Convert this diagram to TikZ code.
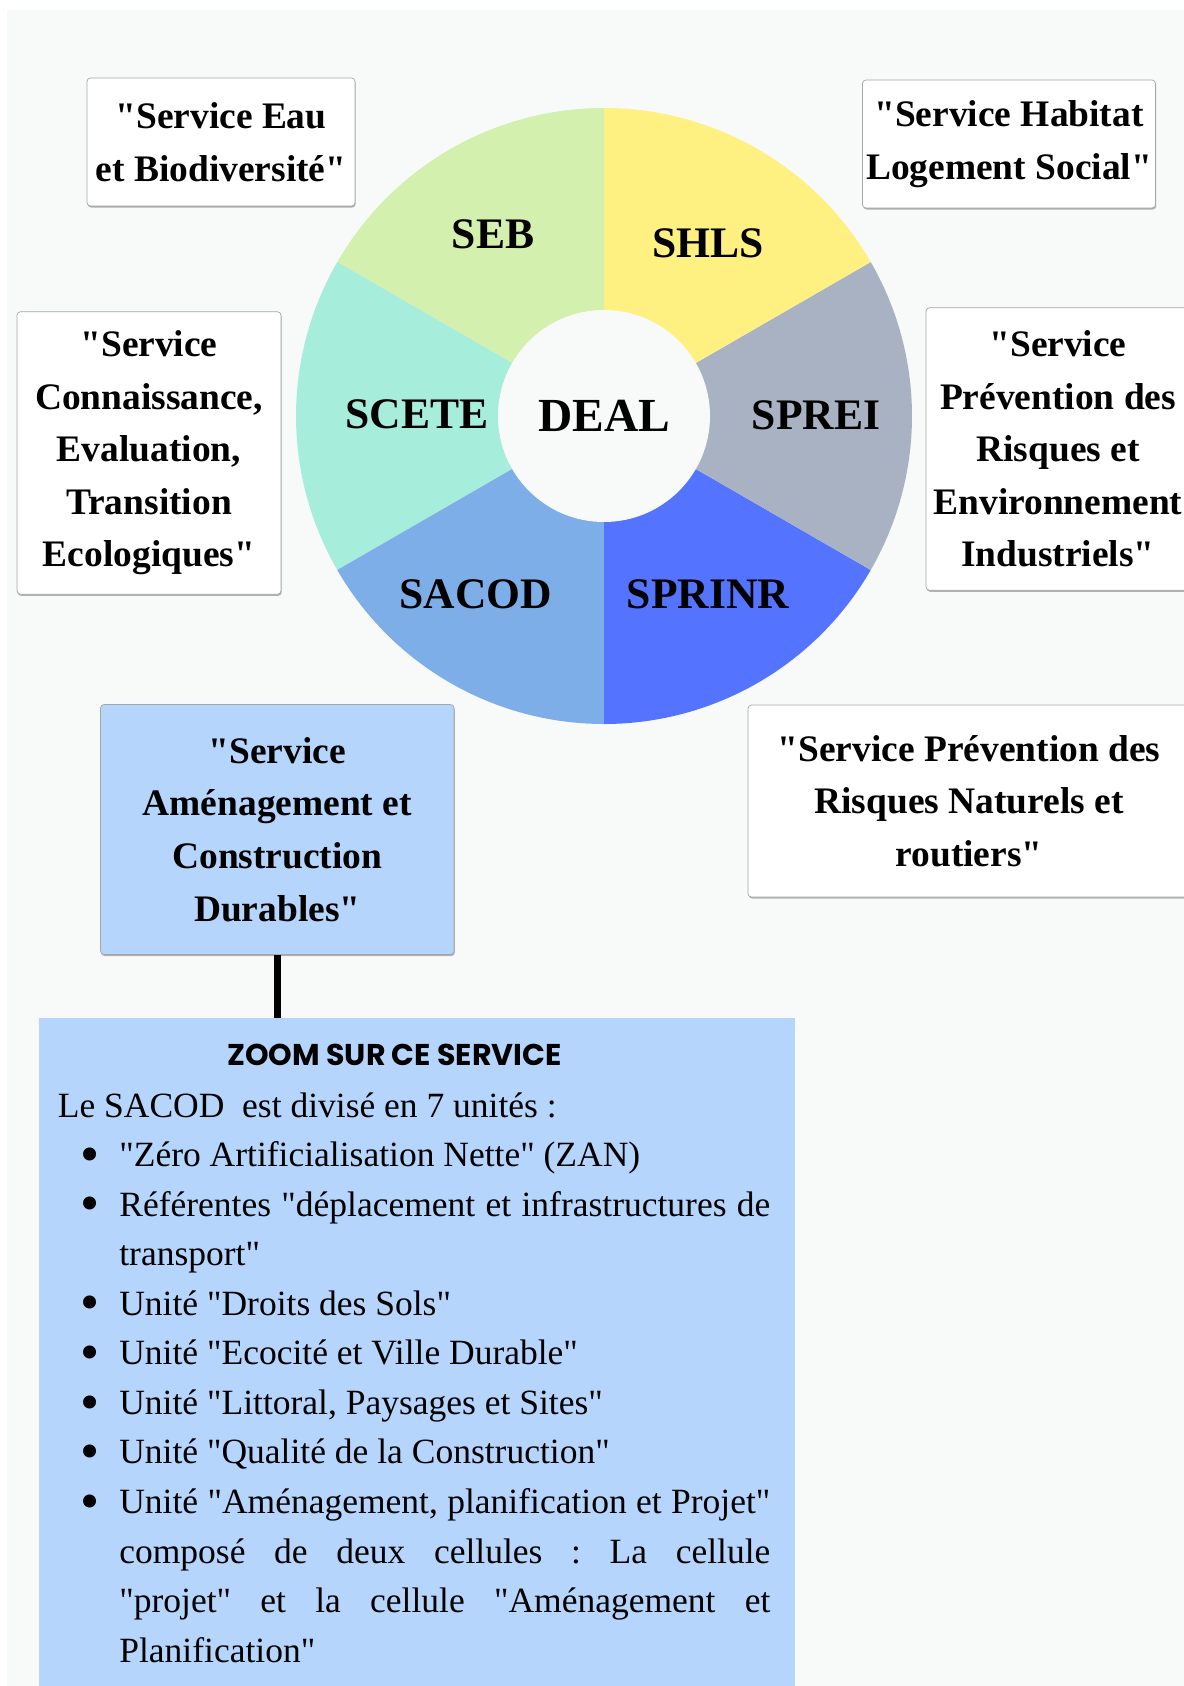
\documentclass[tikz,border=0pt]{standalone}
\usepackage{fontspec}
\setmainfont{Liberation Serif}[Ligatures=TeXOff]
\newfontfamily\zoomfont{Poppins}
\usepackage{xcolor}
\usetikzlibrary{positioning,calc,shadows}

\definecolor{bgcol}{RGB}{248,250,250}
\definecolor{sebcol}{RGB}{212,240,174}
\definecolor{shlscol}{RGB}{255,240,130}
\definecolor{spreicol}{RGB}{169,178,194}
\definecolor{sprinrcol}{RGB}{84,115,255}
\definecolor{sacodcol}{RGB}{125,174,232}
\definecolor{scetecol}{RGB}{166,238,219}
\definecolor{zoomcol}{RGB}{181,213,253}

\newcommand{\bigbullet}{\raisebox{-3.2pt}{\fontsize{31}{31}\selectfont\textbullet}}

\begin{document}
\begin{tikzpicture}[
    svc/.style={rectangle, draw=black!35, fill=#1, rounded corners=2pt, align=center, inner sep=0pt, font=\fontsize{21.3}{29.9}\selectfont\bfseries, drop shadow={shadow xshift=0.4pt, shadow yshift=-0.9pt, opacity=0.6}},
    svc/.default=white,
    sect/.style={font=\fontsize{24.8}{28}\selectfont\bfseries},
    link/.style={line width=4.3pt, black}
]
% --- Canvas ---
\useasboundingbox (0,0) rectangle (23.68,-33.72);
\fill[bgcol] (0.14,-0.2) rectangle (23.68,-33.72);

% --- Wheel of the services ---
\coordinate (c) at (12.08,-8.32);
\foreach \a/\col in {90/sebcol, 150/scetecol, 210/sacodcol, 270/sprinrcol, 330/spreicol, 30/shlscol}
  \fill[\col] (c) -- ++(\a:6.16) arc (\a:\a+60:6.16) -- cycle;
\node[circle, fill=bgcol, minimum size=4.24cm, inner sep=0pt, font=\fontsize{27}{30}\selectfont\bfseries] (deal) at (c) {DEAL};
\node[sect] (seb) at (9.86,-4.68) {SEB};
\node[sect] (shls) at (14.16,-4.86) {SHLS};
\node[sect] (scete) at (8.34,-8.28) {SCETE};
\node[sect] (sprei) at (16.32,-8.3) {SPREI};
\node[sect] (sacod) at (9.52,-11.88) {SACOD};
\node[sect] (sprinr) at (14.16,-11.88) {SPRINR};

% --- Full names ---
\node[svc, minimum width=5.36cm, minimum height=2.56cm] (eau) at (4.42,-2.84) {"Service Eau\\et Biodiversité"};
\node[svc, minimum width=5.86cm, minimum height=2.56cm] (habitat) at (20.18,-2.88) {"Service Habitat\\Logement Social"};
\node[svc, minimum width=5.28cm, minimum height=5.65cm] (connais) at (2.98,-9.06) {"Service\\Connaissance,\\Evaluation,\\Transition\\Ecologiques"};
\node[svc, minimum width=5.28cm, minimum height=5.65cm] (industr) at (21.16,-8.98) {"Service\\Prévention des\\Risques et\\Environnement\\Industriels"};
\node[svc, minimum width=8.84cm, minimum height=3.84cm] (naturels) at (19.38,-16.02) {"Service Prévention des\\Risques Naturels et\\routiers"};
\node[svc=zoomcol, minimum width=7.07cm, minimum height=5cm] (amenag) at (5.546,-16.59) {"Service\\Aménagement et\\Construction\\Durables"};

% --- Zoom on SACOD ---
\node[rectangle, fill=zoomcol, minimum width=15.12cm, minimum height=13.6cm, inner sep=0pt, anchor=north] (zoom) at (8.34,-20.36) {};
\draw[link] (amenag.south) -- (amenag.south |- zoom.north);
\node[font=\zoomfont\bfseries\fontsize{17.1}{20}\selectfont] (ztitle) at (7.89,-21.09) {ZOOM SUR CE SERVICE};
\node[anchor=north west, inner sep=0pt, text width=14.25cm, align=justify, font=\fontsize{20.2}{28.2}\selectfont] (units) at (1.15,-21.84) {\frenchspacing\tolerance=9999 \hbadness=10000 \hyphenpenalty=10000 \exhyphenpenalty=10000
Le SACOD\ \ est divisé en 7 unités :
\begin{list}{\bigbullet}{\setlength{\leftmargin}{1.23cm}\setlength{\labelsep}{0.40cm}\setlength{\labelwidth}{0.83cm}\setlength{\itemsep}{0pt}\setlength{\parsep}{0pt}\setlength{\topsep}{0pt}\setlength{\partopsep}{0pt}}
\item "Zéro Artificialisation Nette" (ZAN)
\item Référentes "déplacement et infrastructures de transport"
\item Unité "Droits des Sols"
\item Unité "Ecocité et Ville Durable"
\item Unité "Littoral, Paysages et Sites"
\item Unité "Qualité de la Construction"
\item Unité "Aménagement, planification et Projet"\linebreak composé de deux cellules : La cellule\linebreak "projet" et la cellule "Aménagement et\linebreak Planification"
\end{list}};
\end{tikzpicture}
\end{document}
